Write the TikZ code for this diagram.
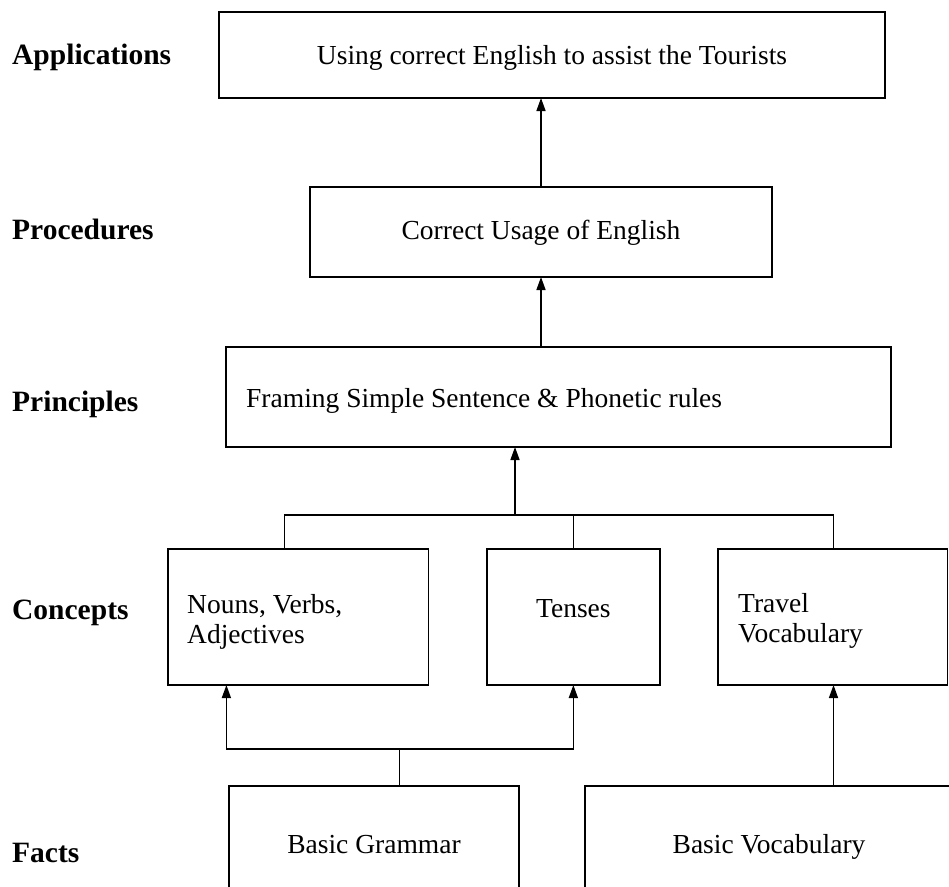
\documentclass[tikz,border=0pt]{standalone}
\usepackage{fontspec}
\setmainfont{Liberation Serif}
\usetikzlibrary{arrows.meta,calc}
\tikzset{
  box/.style={draw, line width=1.7pt, inner sep=0pt, outer sep=0pt, rectangle},
  conn/.style={line width=1.5pt},
  arr/.style={conn, -{Triangle[length=13pt,width=9pt]}},
  lab/.style={inner sep=0pt, font=\fontsize{29.5}{32}\selectfont\bfseries},
  txt/.style={inner sep=0pt, font=\fontsize{27.5}{30}\selectfont},
}
\begin{document}
\begin{tikzpicture}[x=1pt,y=-1pt]
\useasboundingbox[fill=white] (0,0) rectangle (949,886);
% boxes
\node[box, minimum width=666pt, minimum height=86pt] (app) at (552,55) {};
\node[box, minimum width=462pt, minimum height=90pt] (proc) at (541,232) {};
\node[box, minimum width=665pt, minimum height=100pt] (prin) at (558.5,397) {};
\node[box, minimum width=260.6pt, minimum height=136pt] (nouns) at (298.3,617) {};
\node[box, minimum width=173.3pt, minimum height=136pt] (tenses) at (573.35,617) {};
\node[box, minimum width=229.5pt, minimum height=136pt] (travel) at (832.75,617) {};
\node[box, minimum width=290pt, minimum height=120pt] (grammar) at (374,846) {};
\node[box, minimum width=395pt, minimum height=120pt] (vocab) at (782.5,846) {};
% level labels
\node[lab, anchor=base west] (lapp) at (12,64) {Applications};
\node[lab, anchor=base west] (lproc) at (12,239) {Procedures};
\node[lab, anchor=base west] (lprin) at (12,411) {Principles};
\node[lab, anchor=base west] (lcon) at (12,619) {Concepts};
\node[lab, anchor=base west] (lfact) at (12,862) {Facts};
% box texts
\node[txt, anchor=base] (tapp) at (552,64) {Using correct English to assist the Tourists};
\node[txt, anchor=base] (tproc) at (541,239) {Correct Usage of English};
\node[txt, anchor=base west] (tprin) at (246,407) {Framing Simple Sentence \& Phonetic rules};
\node[txt, anchor=base west] (tnoun1) at (187,613) {Nouns, Verbs,};
\node[txt, anchor=base west] (tnoun2) at (187,643) {Adjectives};
\node[txt, anchor=base] (ttense) at (573.35,617) {Tenses};
\node[txt, anchor=base west] (ttrav1) at (738,612) {Travel};
\node[txt, anchor=base west] (ttrav2) at (738,642) {Vocabulary};
\node[txt, anchor=base] (tgram) at (374,853) {Basic Grammar};
\node[txt, anchor=base] (tvoc) at (769,853) {Basic Vocabulary};
% connectors
\draw[arr] (proc.north) -- (proc.north |- app.south);
\draw[arr] (proc.south |- prin.north) -- (proc.south);
\coordinate (bl) at (284.5,515);
\coordinate (bm) at (515,515);
\coordinate (br) at (833.5,515);
\draw[conn] (bl |- nouns.north) -- (bl) -- (br) -- (br |- travel.north);
\draw[conn] (tenses.north) -- (tenses.north |- bl);
\draw[arr] (bm) -- (bm |- prin.south);
\coordinate (gl) at (226.4,749);
\coordinate (gm) at (399.5,749);
\coordinate (gr) at (573.35,749);
\draw[conn] (gm |- grammar.north) -- (gm);
\draw[arr] (gm) -- (gl) -- (gl |- nouns.south);
\draw[arr] (gm) -- (gr) -- (gr |- tenses.south);
\draw[arr] (br |- vocab.north) -- (br |- travel.south);
\end{tikzpicture}
\end{document}
